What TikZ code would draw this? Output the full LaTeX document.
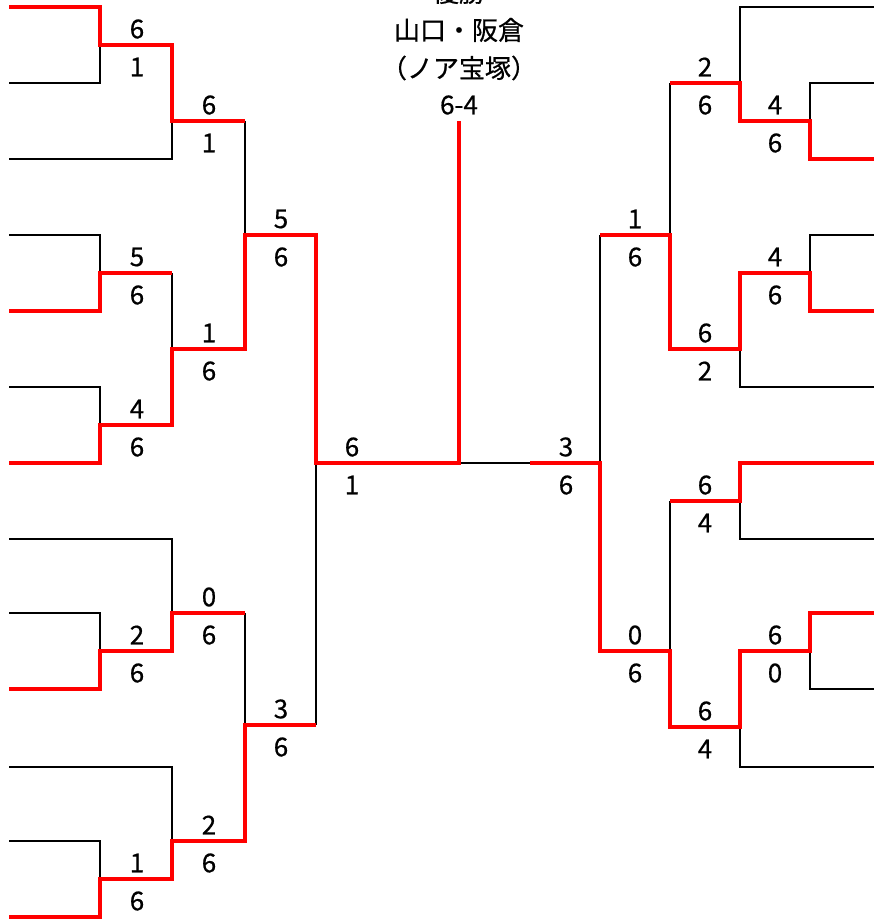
\documentclass[tikz,border=0pt]{standalone}
\usepackage{fontspec}
\setmainfont{Noto Sans CJK JP}[FakeBold=0.6]

\begin{document}
\begin{tikzpicture}[x=1pt, y=-1pt,
    lost/.style={draw=black, line width=1.6pt},
    won/.style={draw=red, line width=3.6pt},
    every node/.style={font=\fontsize{26}{30}\selectfont, inner sep=0pt}]
    \clip (0,0) rectangle (874,920);

    % title of the final
    \node (cup) at (459,-8) {優勝};
    \node (pair) at (459,30) {山口・阪倉};
    \node (club) at (459,68) {（ノア宝塚）};
    \node (final) at (459,105) {6-4};
    \coordinate (top) at (459,121);

    % left half, losing lines
    \draw[lost] (9,83) -| (100,45);
    \draw[lost] (9,159) -| (172,121);
    \draw[lost] (245,121) -- (245,235);
    \draw[lost] (9,235) -| (100,273);
    \draw[lost] (172,273) -- (172,349);
    \draw[lost] (9,387) -| (100,425);
    \draw[lost] (316,463) -- (316,725);
    \draw[lost] (9,539) -| (172,613);
    \draw[lost] (9,613) -| (100,651);
    \draw[lost] (245,613) -- (245,725);
    \draw[lost] (9,767) -| (172,841);
    \draw[lost] (9,841) -| (100,879);
    % middle and right half, losing lines
    \draw[lost] (459,463) -- (530,463);
    \draw[lost] (600,463) -- (600,235);
    \draw[lost] (670,235) -- (670,83);
    \draw[lost] (874,7) -| (740,83);
    \draw[lost] (874,83) -| (810,121);
    \draw[lost] (874,235) -| (810,273);
    \draw[lost] (874,387) -| (740,349);
    \draw[lost] (670,501) -- (670,651);
    \draw[lost] (874,539) -| (740,501);
    \draw[lost] (874,689) -| (810,651);
    \draw[lost] (874,767) -| (740,727);

    % winners, left half
    \draw[won] (9,7) -| (100,45) -| (172,121) -- (245,121);
    \draw[won] (9,311) -| (100,273) -- (172,273);
    \draw[won] (9,463) -| (100,425) -| (172,349) -| (245,235) -| (316,463) -- (459,463) -- (top);
    \draw[won] (9,689) -| (100,651) -| (172,613) -- (245,613);
    \draw[won] (9,917) -| (100,879) -| (172,841) -| (245,725) -- (316,725);
    % winners, right half
    \draw[won] (874,159) -| (810,121) -| (740,83) -- (670,83);
    \draw[won] (874,311) -| (810,273) -| (740,349) -| (670,235) -- (600,235);
    \draw[won] (874,463) -| (740,501) -- (670,501);
    \draw[won] (874,613) -| (810,651) -| (740,727) -| (670,651) -| (600,463) -- (530,463);

    % scores above and below each line
    \foreach \x/\y/\a/\b [count=\i] in {137/45/6/1, 209/121/6/1, 281/235/5/6, 137/273/5/6,
        209/349/1/6, 137/425/4/6, 352/463/6/1, 209/613/0/6, 137/651/2/6, 281/725/3/6,
        209/841/2/6, 137/879/1/6, 566/463/3/6, 705/83/2/6, 775/121/4/6, 635/235/1/6,
        775/273/4/6, 705/349/6/2, 705/501/6/4, 635/651/0/6, 775/651/6/0, 705/727/6/4} {
        \node (hi\i) at ({\x},{\y-16}) {\a};
        \node (lo\i) at ({\x},{\y+22}) {\b};
    }
\end{tikzpicture}
\end{document}
